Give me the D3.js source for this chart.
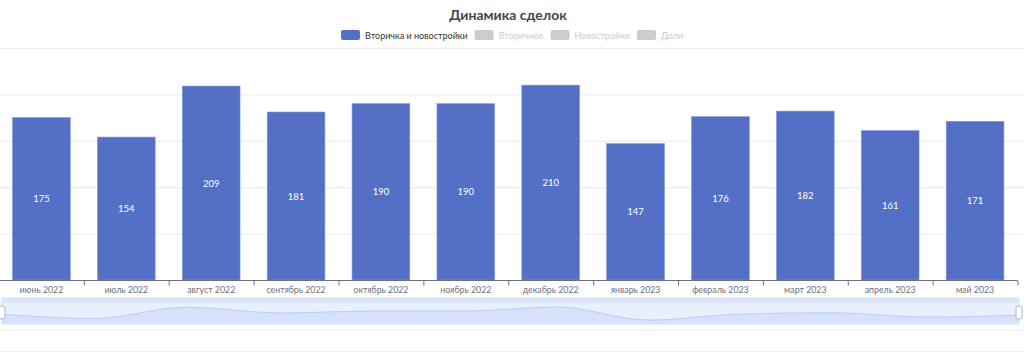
<!DOCTYPE html>
<html>
<head>
<meta charset="utf-8">
<script src="https://cdn.jsdelivr.net/npm/d3@7"></script>
<style>
  body { margin: 0; background: #fff; }
  #vis { width: 1024px; height: 359px; }
  text { font-family: Lato, Roboto, sans-serif; }
</style>
</head>
<body>
<div id="vis"></div>
<script>
// data
let months = ['июнь 2022', 'июль 2022', 'август 2022', 'сентябрь 2022', 'октябрь 2022', 'ноябрь 2022',
  'декабрь 2022', 'январь 2023', 'февраль 2023', 'март 2023', 'апрель 2023', 'май 2023']
let deals = [175, 154, 209, 181, 190, 190, 210, 147, 176, 182, 161, 171]
let yTicks = [0, 50, 100, 150, 200, 250]
let legendItems = [
  { name: 'Вторичка и новостройки', on: true },
  { name: 'Вторичное', on: false },
  { name: 'Новостройки', on: false },
  { name: 'Доли', on: false }
]

let width = 1024, height = 359
let plot = { left: -1, right: 1017.5, top: 48, bottom: 280 }

let svg = d3.select('#vis')
  .append('svg')
  .attr('width', width)
  .attr('height', height)
  .attr('viewBox', [0, 0, width, height].join(' '))

let x = d3.scaleBand()
  .domain(months)
  .range([plot.left, plot.right])
  .paddingInner(0.32)
  .paddingOuter(0.16)

let xTick = d3.scaleBand().domain(months).range([plot.left, plot.right])

let y = d3.scaleLinear()
  .domain([0, 250])
  .range([plot.bottom, plot.top])

// grid lines
svg.append('g')
  .selectAll('line')
  .data(yTicks.slice(1))
  .join('line')
  .attr('x1', 0).attr('x2', width)
  .attr('y1', d => y(d) + 0.5).attr('y2', d => y(d) + 0.5)
  .attr('stroke', '#e6eaf2')

// bars
svg.append('g')
  .selectAll('rect')
  .data(deals)
  .join('rect')
  .attr('x', (d, i) => x(months[i]))
  .attr('y', d => y(d))
  .attr('width', x.bandwidth())
  .attr('height', d => y(0) - y(d))
  .attr('fill', '#5470c6')
  .attr('stroke', '#7f95d6')
  .attr('stroke-width', 0.6)

// labels in bars
svg.append('g')
  .selectAll('text')
  .data(deals)
  .join('text')
  .attr('x', (d, i) => x(months[i]) + x.bandwidth() / 2)
  .attr('y', d => (y(d) + y(0)) / 2 + 3.5)
  .attr('text-anchor', 'middle')
  .attr('fill', '#fff')
  .style('font-size', '9.5px')
  .text(d => d)

// x axis
let xAxis = svg.append('g')
  .attr('transform', `translate(0,${plot.bottom + 0.5})`)
xAxis.append('line')
  .attr('x1', 0).attr('x2', plot.right)
  .attr('stroke', '#6e7079')
xAxis.selectAll('.tick')
  .data(months.map((m, i) => i).concat([months.length]))
  .join('line')
  .attr('x1', i => (i < months.length ? xTick(months[i]) : plot.right) + 0.5)
  .attr('x2', i => (i < months.length ? xTick(months[i]) : plot.right) + 0.5)
  .attr('y1', 0).attr('y2', 5)
  .attr('stroke', '#6e7079')
xAxis.selectAll('text')
  .data(months)
  .join('text')
  .attr('x', d => xTick(d) + xTick.bandwidth() / 2)
  .attr('y', 12.5)
  .attr('text-anchor', 'middle')
  .attr('fill', '#6e7079')
  .style('font-size', '8.8px')
  .text(d => d)

// title
svg.append('text')
  .attr('x', 508)
  .attr('y', 20)
  .attr('text-anchor', 'middle')
  .attr('fill', '#464646')
  .style('font-size', '14px')
  .style('font-weight', 'bold')
  .text('Динамика сделок')

// legend
let legend = svg.append('g')
let lx = 341
legendItems.forEach(item => {
  let g = legend.append('g').attr('transform', `translate(${lx},30)`)
  g.append('rect')
    .attr('width', 19).attr('height', 10).attr('rx', 2)
    .attr('fill', item.on ? '#5470c6' : '#ccc')
  let t = g.append('text')
    .attr('x', 24).attr('y', 8.5)
    .attr('fill', item.on ? '#333' : '#ccc')
    .style('font-size', '9px')
    .text(item.name)
  lx += 24 + t.node().getComputedTextLength() + 7
})

// data zoom slider
let slider = { left: 2, right: 1019, top: 298, bottom: 324 }
let sx = d3.scaleLinear().domain([0, deals.length - 1]).range([slider.left, slider.right])
let ext = d3.extent(deals)
let off = (ext[1] - ext[0]) * 0.3
let sy = d3.scaleLinear().domain([ext[0] - off, ext[1] + off]).range([slider.bottom, slider.top + 5])

let zoomG = svg.append('g')
zoomG.append('rect')
  .attr('x', slider.left).attr('y', slider.top)
  .attr('width', slider.right - slider.left).attr('height', slider.bottom - slider.top)
  .attr('fill', '#e9effc')
  .attr('stroke', '#d2dbee')

let area = d3.area()
  .x((d, i) => sx(i))
  .y0(slider.bottom)
  .y1(d => sy(d))
  .curve(d3.curveMonotoneX)
zoomG.append('path')
  .attr('d', area(deals))
  .attr('fill', '#d6e2fc')
zoomG.append('path')
  .attr('d', d3.line().x((d, i) => sx(i)).y(d => sy(d)).curve(d3.curveMonotoneX)(deals))
  .attr('fill', 'none')
  .attr('stroke', '#bccdf5')

// move handle on top
zoomG.append('rect')
  .attr('x', slider.left).attr('y', slider.top)
  .attr('width', slider.right - slider.left).attr('height', 5)
  .attr('fill', '#dbe4f8')

// side handles
;[slider.left, slider.right].forEach(hx => {
  zoomG.append('rect')
    .attr('x', hx - 3).attr('y', 306)
    .attr('width', 6).attr('height', 13).attr('rx', 2)
    .attr('fill', '#fff')
    .attr('stroke', '#acb8d1')
})

// faint lines below
svg.append('g')
  .selectAll('line')
  .data([330, 351])
  .join('line')
  .attr('x1', 0).attr('x2', width)
  .attr('y1', d => d + 0.5).attr('y2', d => d + 0.5)
  .attr('stroke', '#f0f0f0')
</script>
</body>
</html>
